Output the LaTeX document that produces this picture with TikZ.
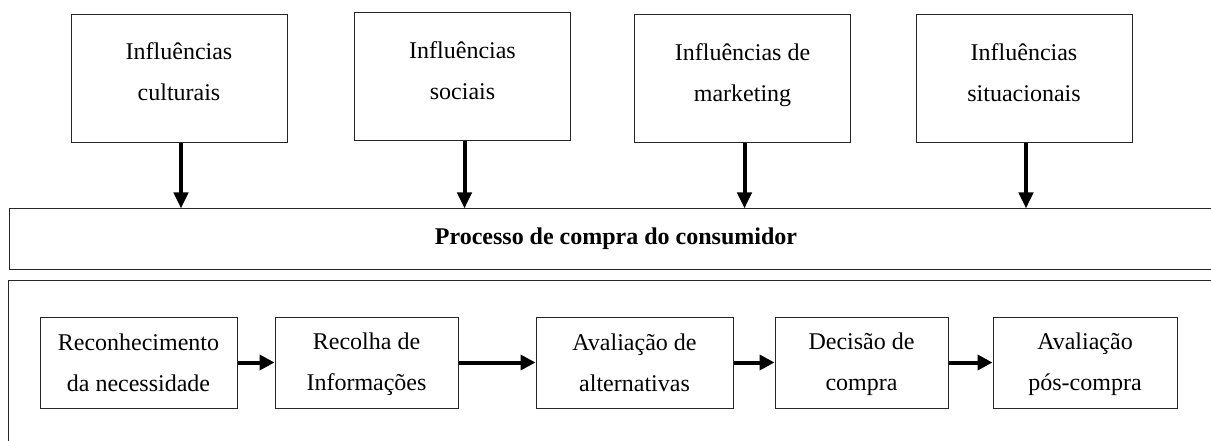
\documentclass[tikz,border=0pt]{standalone}
\usepackage{fontspec}
\setmainfont{Liberation Serif}
\usetikzlibrary{arrows.meta}
\newcommand\Tstr{\rule{0pt}{20pt}}
\newcommand\Bstr[1]{\rule[-#1]{0pt}{#1}}
\begin{document}
\begin{tikzpicture}[x=1pt,y=-1pt,
  infl/.style={draw=black!85, line width=1pt, minimum width=216pt, minimum height=128pt,
    inner sep=0pt, align=center, font=\fontsize{24}{41}\selectfont},
  flow/.style={draw=black!85, line width=1pt, minimum height=91pt, inner sep=0pt,
    align=center, font=\fontsize{24}{41}\selectfont},
  frame/.style={draw=black!85, line width=1pt, inner sep=0pt},
  varr/.style={line width=4pt, -{Triangle[length=16pt,width=14pt]}},
  harr/.style={line width=4pt, -{Triangle[length=15pt,width=15pt]}},
]
\useasboundingbox (0,0) rectangle (1211,441);
\fill[white] (0,0) rectangle (1211,441);
\begin{scope}
\clip (0,0) rectangle (1211,441);

% influence boxes
\node[infl] (c1) at (179,78.5) {\Tstr Influências\\culturais\Bstr{16pt}};
\node[infl] (c2) at (462.5,77) {\Tstr Influências\\sociais\Bstr{16pt}};
\node[infl] (c3) at (742.5,79) {\Tstr Influências de\\marketing\Bstr{16pt}};
\node[infl] (c4) at (1024,79) {\Tstr Influências\\situacionais\Bstr{16pt}};

% process bar
\node[frame, minimum width=1260pt, minimum height=60pt] (proc) at (639,239) {};
\node[anchor=base, inner sep=0pt, font=\fontsize{24}{29}\selectfont\bfseries] (proct) at (616,244) {Processo de compra do consumidor};

% stages container
\node[frame, minimum width=1260pt, minimum height=200pt] (stage) at (638,380) {};

% stage boxes
\node[flow, minimum width=197pt] (s1) at (138.5,362.5) {\Tstr Reconhecimento\\da necessidade\Bstr{4pt}};
\node[flow, minimum width=183pt] (s2) at (366.5,362.5) {\Tstr Recolha de\\Informações\Bstr{4pt}};
\node[flow, minimum width=197pt] (s3) at (634.5,362.5) {\Tstr Avaliação de\\alternativas\Bstr{4pt}};
\node[flow, minimum width=173pt] (s4) at (861.5,362.5) {\Tstr Decisão de\\compra\Bstr{4pt}};
\node[flow, minimum width=184pt] (s5) at (1085,362.5) {\Tstr Avaliação\\pós-compra\Bstr{4pt}};

% arrows
\foreach \c in {c1,c2,c3,c4}
  \draw[varr] ([xshift=2pt]\c.south) -- ([xshift=2pt]\c.south |- proc.north);
\draw[harr] (s1.east) -- (s2.west);
\draw[harr] (s2.east) -- (s3.west);
\draw[harr] (s3.east) -- (s4.west);
\draw[harr] (s4.east) -- (s5.west);
\end{scope}
\end{tikzpicture}
\end{document}
